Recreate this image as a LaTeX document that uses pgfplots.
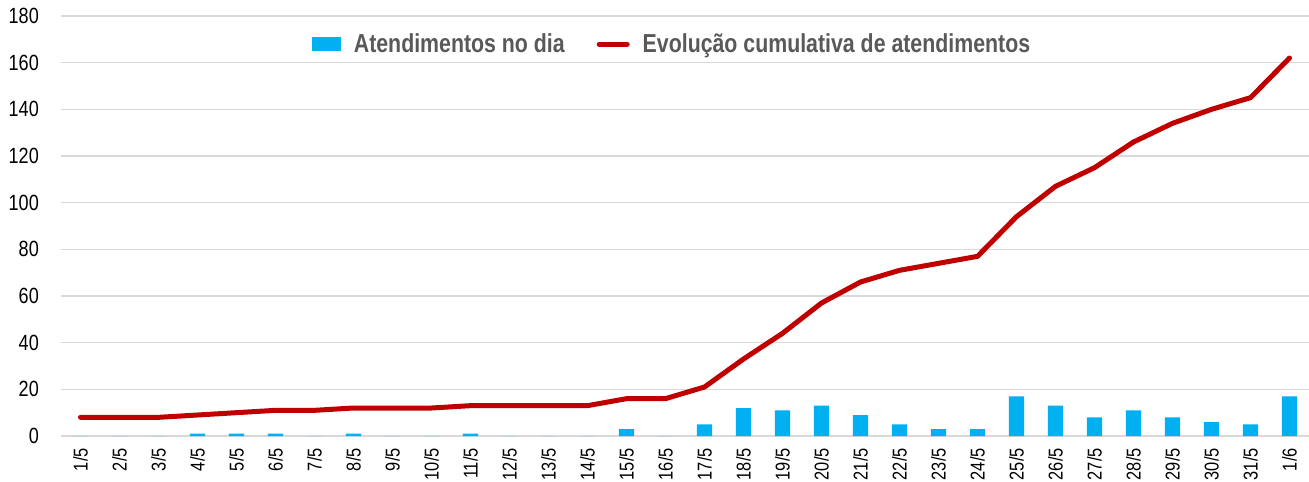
\documentclass[border=0pt]{standalone}
\usepackage{fontspec}
\setmainfont{Liberation Sans}[FakeStretch=0.82]
\usepackage{pgfplots}
\pgfplotsset{compat=1.18}
\definecolor{barblue}{HTML}{00B0F0}
\definecolor{linered}{HTML}{C00000}
\definecolor{gridgray}{HTML}{D9D9D9}
\definecolor{legtext}{HTML}{595959}
\begin{document}
\begin{tikzpicture}
\begin{axis}[
  scale only axis,
  width=1248pt, height=420pt,
  xmin=-0.5, xmax=31.5,
  ymin=0, ymax=180,
  ytick={0,20,...,180},
  xtick={0,...,31},
  xticklabels={1/5,2/5,3/5,4/5,5/5,6/5,7/5,8/5,9/5,10/5,11/5,12/5,13/5,14/5,15/5,16/5,17/5,18/5,19/5,20/5,21/5,22/5,23/5,24/5,25/5,26/5,27/5,28/5,29/5,30/5,31/5,1/6},
  ymajorgrids,
  grid style={gridgray, line width=1.2pt},
  axis line style={draw=none},
  tick style={draw=none},
  /pgf/number format/assume math mode=true,
  yticklabel style={font=\fontsize{22}{26}\selectfont, inner sep=0pt, anchor=east},
  yticklabel shift=22pt,
  xticklabel style={font=\fontsize{20}{24}\selectfont, inner sep=0pt, rotate=90, anchor=east},
  xticklabel shift=12pt,
  legend style={draw=none, fill=none, at={(0.4896,0.933)}, anchor=center,
    font=\fontsize{26}{30}\selectfont\bfseries, text=legtext,
    /tikz/every even column/.append style={column sep=30pt},
    /tikz/every odd column/.append style={column sep=11pt},
    nodes={inner sep=2pt}},
  legend columns=-1,
  clip=false,
]
\coordinate (bl) at (rel axis cs:-0.04888,-0.1095);
\coordinate (tr) at (rel axis cs:1,1.0381);
\addplot[ybar, bar width=15.3pt, fill=barblue, draw=none,
  legend image code/.code={\fill[barblue] (0pt,-7pt) rectangle (29pt,7pt);}]
  coordinates {(0,0) (1,0) (2,0) (3,1) (4,1) (5,1) (6,0) (7,1) (8,0) (9,0) (10,1) (11,0) (12,0) (13,0) (14,3) (15,0) (16,5) (17,12) (18,11) (19,13) (20,9) (21,5) (22,3) (23,3) (24,17) (25,13) (26,8) (27,11) (28,8) (29,6) (30,5) (31,17)};
\addlegendentry{Atendimentos no dia}
\addplot[linered, line width=5pt, line cap=round, line join=round, mark=none,
  legend image code/.code={\draw[linered, line width=5pt, line cap=round] (2pt,0pt) -- (30pt,0pt);}]
  coordinates {(0,8) (1,8) (2,8) (3,9) (4,10) (5,11) (6,11) (7,12) (8,12) (9,12) (10,13) (11,13) (12,13) (13,13) (14,16) (15,16) (16,21) (17,33) (18,44) (19,57) (20,66) (21,71) (22,74) (23,77) (24,94) (25,107) (26,115) (27,126) (28,134) (29,140) (30,145) (31,162)};
\addlegendentry{Evolução cumulativa de atendimentos}
\end{axis}
\pgfresetboundingbox
\path[use as bounding box] (bl) rectangle (tr);
\end{tikzpicture}
\end{document}
